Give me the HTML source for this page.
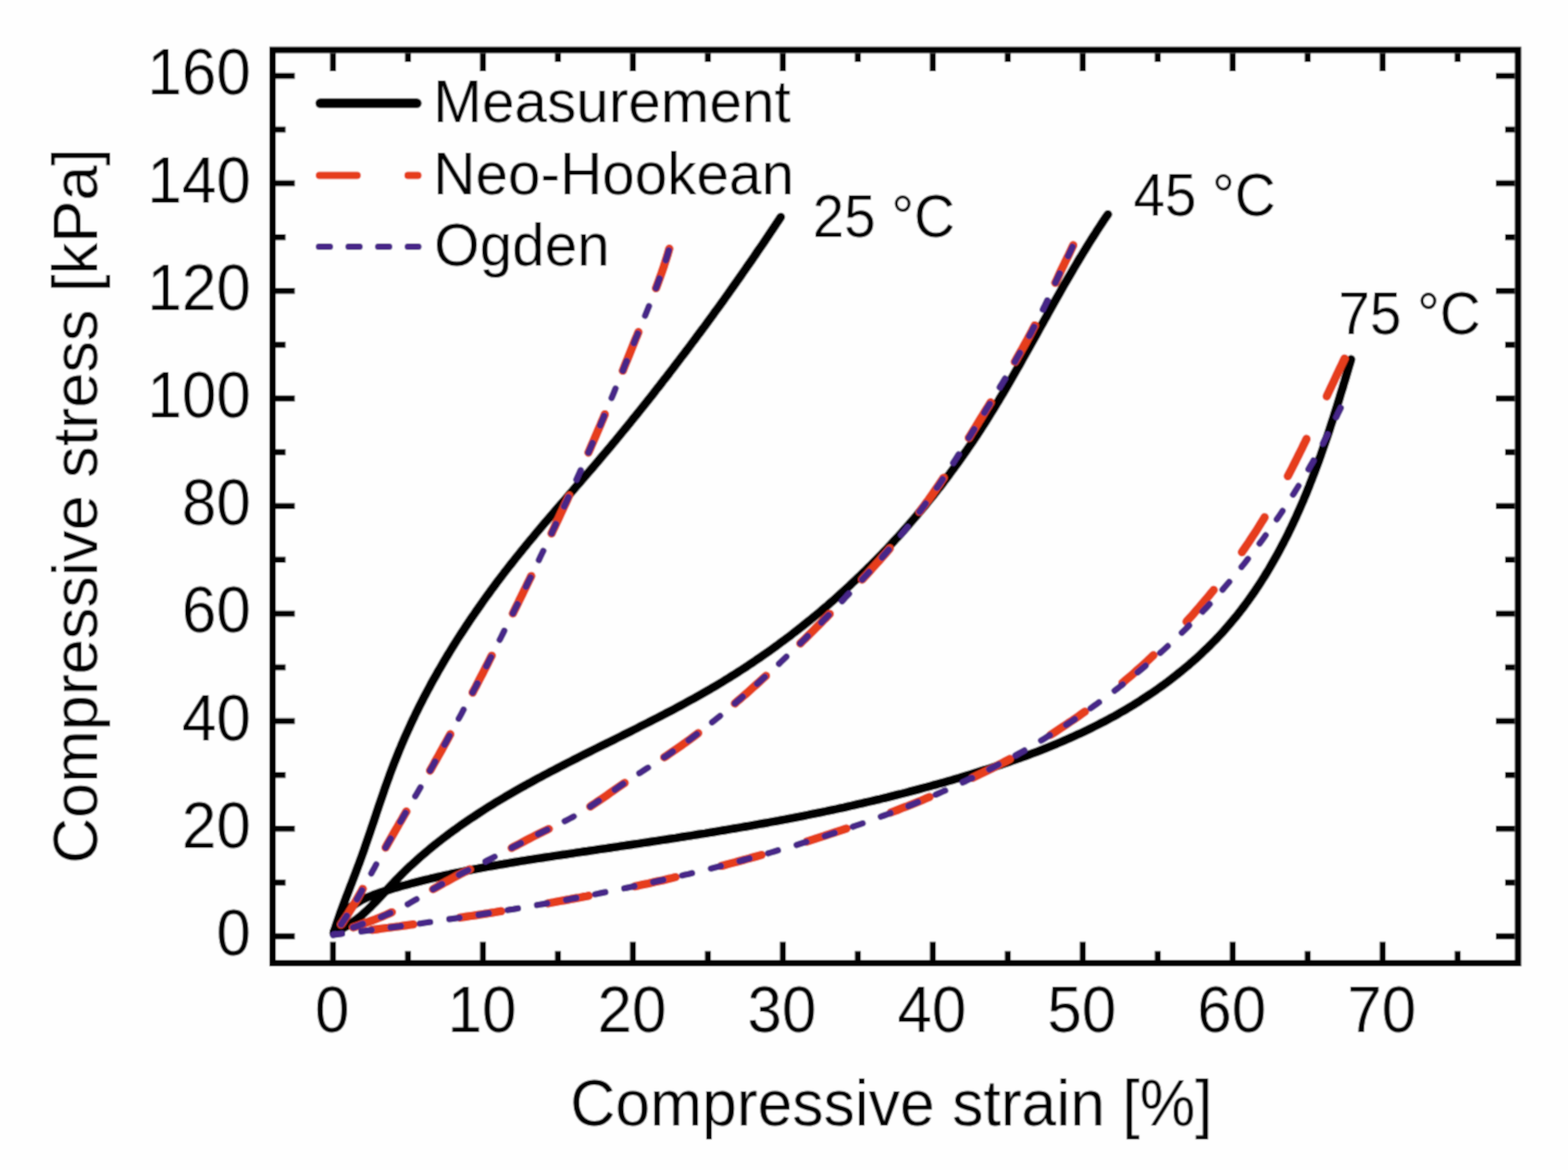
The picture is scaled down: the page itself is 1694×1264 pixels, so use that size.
<!DOCTYPE html><html><head><meta charset="utf-8"><title>Compressive stress-strain</title>
<style>html,body{margin:0;padding:0;background:#fefefe;}svg{display:block;}text{font-family:"Liberation Sans",Arial,sans-serif;fill:#000;}</style></head><body>
<svg width="1694" height="1264" viewBox="0 0 1694 1264">
<defs><filter id="soft" x="0" y="0" width="100%" height="100%" filterUnits="userSpaceOnUse"><feConvolveMatrix order="3" kernelMatrix="1 2 1 2 6 2 1 2 1" edgeMode="duplicate"/></filter></defs>
<g filter="url(#soft)">
<rect width="1694" height="1264" fill="#fefefe"/>
<g>
<path d="M360.5,1008.0 L361.7,1004.2 L362.9,1000.3 L364.2,996.5 L365.5,992.7 L366.8,988.9 L368.1,985.1 L369.5,981.4 L370.9,977.6 L372.3,973.9 L373.7,970.1 L375.2,966.3 L376.6,962.6 L378.0,958.8 L379.5,955.1 L380.9,951.4 L382.4,947.6 L383.8,943.9 L385.2,940.1 L386.6,936.3 L388.1,932.6 L389.4,928.8 L390.8,925.0 L392.2,921.2 L393.5,917.4 L394.8,913.6 L396.1,909.8 L397.4,906.0 L398.7,902.2 L400.0,898.4 L401.3,894.6 L402.6,890.8 L403.9,886.9 L405.2,883.1 L406.4,879.3 L407.7,875.5 L409.0,871.6 L410.3,867.8 L411.6,864.0 L412.9,860.2 L414.2,856.4 L415.5,852.6 L416.8,848.8 L418.2,845.0 L419.6,841.2 L420.9,837.4 L422.3,833.7 L423.7,829.9 L425.2,826.1 L426.6,822.4 L428.1,818.7 L429.6,814.9 L431.1,811.2 L432.7,807.5 L434.2,803.8 L435.8,800.1 L437.4,796.4 L439.0,792.8 L440.7,789.1 L442.4,785.5 L444.0,781.8 L445.7,778.2 L447.5,774.6 L449.2,770.9 L451.0,767.3 L452.8,763.7 L454.6,760.2 L456.4,756.6 L458.2,753.0 L460.1,749.5 L462.0,745.9 L463.9,742.4 L465.8,738.8 L467.7,735.3 L469.7,731.8 L471.7,728.3 L473.6,724.8 L475.7,721.3 L477.7,717.9 L479.7,714.4 L481.8,710.9 L483.8,707.5 L485.9,704.1 L488.0,700.6 L490.1,697.2 L492.3,693.8 L494.4,690.4 L496.6,687.0 L498.8,683.6 L501.0,680.3 L503.2,676.9 L505.4,673.6 L507.7,670.2 L509.9,666.9 L512.2,663.6 L514.5,660.3 L516.8,657.0 L519.1,653.7 L521.4,650.4 L523.7,647.1 L526.1,643.8 L528.5,640.6 L530.8,637.3 L533.2,634.1 L535.6,630.9 L538.0,627.6 L540.5,624.4 L542.9,621.2 L545.3,618.0 L547.8,614.9 L550.3,611.7 L552.8,608.5 L555.3,605.4 L557.8,602.2 L560.3,599.1 L562.8,596.0 L565.3,592.9 L567.9,589.7 L570.4,586.6 L573.0,583.5 L575.6,580.5 L578.1,577.4 L580.7,574.3 L583.3,571.2 L585.9,568.2 L588.5,565.1 L591.1,562.1 L593.7,559.0 L596.3,556.0 L599.0,552.9 L601.6,549.9 L604.2,546.9 L606.8,543.8 L609.5,540.8 L612.1,537.8 L614.7,534.7 L617.4,531.7 L620.0,528.7 L622.6,525.6 L625.2,522.6 L627.9,519.6 L630.5,516.5 L633.1,513.5 L635.7,510.5 L638.4,507.4 L641.0,504.4 L643.6,501.3 L646.2,498.2 L648.8,495.2 L651.4,492.1 L654.0,489.0 L656.5,486.0 L659.1,482.9 L661.7,479.8 L664.3,476.7 L666.8,473.6 L669.4,470.5 L671.9,467.4 L674.5,464.3 L677.0,461.2 L679.6,458.1 L682.1,454.9 L684.6,451.8 L687.1,448.7 L689.7,445.5 L692.2,442.4 L694.7,439.3 L697.2,436.1 L699.7,433.0 L702.2,429.8 L704.7,426.7 L707.2,423.5 L709.6,420.3 L712.1,417.2 L714.6,414.0 L717.0,410.8 L719.5,407.7 L722.0,404.5 L724.4,401.3 L726.9,398.1 L729.3,394.9 L731.8,391.7 L734.2,388.5 L736.6,385.3 L739.1,382.1 L741.5,378.9 L743.9,375.7 L746.3,372.5 L748.7,369.3 L751.1,366.1 L753.5,362.8 L755.9,359.6 L758.3,356.4 L760.7,353.2 L763.1,349.9 L765.4,346.7 L767.8,343.4 L770.2,340.2 L772.5,336.9 L774.9,333.7 L777.3,330.4 L779.6,327.2 L782.0,323.9 L784.3,320.6 L786.6,317.4 L789.0,314.1 L791.3,310.8 L793.6,307.5 L795.9,304.3 L798.2,301.0 L800.5,297.7 L802.8,294.4 L805.1,291.1 L807.4,287.8 L809.7,284.5 L812.0,281.2 L814.3,277.9 L816.6,274.5 L818.8,271.2 L821.1,267.9 L823.4,264.6 L825.6,261.3 L827.9,257.9 L830.1,254.6 L832.4,251.2 L834.6,247.9 L836.8,244.6 L839.1,241.2 L841.3,237.9 L843.5,234.5" fill="none" stroke="#000" stroke-width="9.4" stroke-linejoin="round" stroke-linecap="round"/>
<path d="M361.0,1007.0 L364.8,1005.5 L368.5,1003.8 L372.0,1001.9 L375.4,1000.0 L378.8,997.8 L382.0,995.6 L385.2,993.2 L388.3,990.8 L391.3,988.3 L394.3,985.6 L397.2,982.9 L400.1,980.1 L402.9,977.3 L405.7,974.4 L408.5,971.5 L411.2,968.6 L414.0,965.6 L416.7,962.6 L419.4,959.7 L422.2,956.7 L425.0,953.8 L427.8,950.8 L430.6,947.9 L433.4,945.1 L436.3,942.2 L439.2,939.4 L442.1,936.6 L445.1,933.9 L448.1,931.2 L451.1,928.5 L454.1,925.8 L457.1,923.2 L460.2,920.6 L463.3,918.0 L466.4,915.4 L469.5,912.9 L472.7,910.4 L475.9,907.9 L479.1,905.4 L482.3,903.0 L485.5,900.6 L488.7,898.2 L492.0,895.9 L495.2,893.5 L498.5,891.2 L501.8,888.9 L505.1,886.6 L508.4,884.4 L511.8,882.2 L515.1,880.0 L518.5,877.8 L521.8,875.6 L525.2,873.4 L528.6,871.3 L532.0,869.2 L535.4,867.1 L538.9,865.0 L542.3,863.0 L545.7,860.9 L549.2,858.9 L552.7,856.9 L556.1,854.9 L559.6,852.9 L563.1,850.9 L566.6,849.0 L570.1,847.0 L573.7,845.1 L577.2,843.1 L580.7,841.2 L584.3,839.3 L587.8,837.4 L591.3,835.6 L594.9,833.7 L598.5,831.8 L602.0,830.0 L605.6,828.1 L609.2,826.3 L612.8,824.4 L616.4,822.6 L619.9,820.8 L623.5,819.0 L627.1,817.1 L630.7,815.3 L634.3,813.5 L637.9,811.7 L641.5,809.9 L645.1,808.1 L648.8,806.3 L652.4,804.5 L656.0,802.7 L659.6,801.0 L663.2,799.2 L666.8,797.4 L670.4,795.6 L674.0,793.8 L677.6,792.0 L681.2,790.2 L684.8,788.4 L688.4,786.6 L692.0,784.7 L695.6,782.9 L699.2,781.1 L702.8,779.3 L706.4,777.4 L710.0,775.6 L713.6,773.8 L717.2,771.9 L720.7,770.0 L724.3,768.2 L727.9,766.3 L731.4,764.4 L735.0,762.5 L738.5,760.6 L742.0,758.7 L745.6,756.7 L749.1,754.8 L752.6,752.8 L756.1,750.9 L759.6,748.9 L763.1,746.9 L766.6,744.9 L770.0,742.8 L773.5,740.8 L777.0,738.7 L780.4,736.7 L783.8,734.6 L787.3,732.5 L790.7,730.3 L794.1,728.2 L797.5,726.0 L800.8,723.9 L804.2,721.7 L807.6,719.5 L810.9,717.2 L814.3,715.0 L817.6,712.7 L820.9,710.5 L824.2,708.2 L827.5,705.9 L830.8,703.6 L834.1,701.2 L837.3,698.9 L840.6,696.5 L843.8,694.1 L847.0,691.7 L850.3,689.3 L853.5,686.9 L856.7,684.4 L859.8,682.0 L863.0,679.5 L866.2,677.0 L869.3,674.5 L872.4,672.0 L875.6,669.5 L878.7,666.9 L881.8,664.3 L884.9,661.8 L888.0,659.2 L891.0,656.6 L894.1,654.0 L897.1,651.3 L900.1,648.7 L903.2,646.0 L906.2,643.3 L909.2,640.6 L912.1,637.9 L915.1,635.2 L918.1,632.5 L921.0,629.7 L923.9,627.0 L926.8,624.2 L929.8,621.4 L932.6,618.6 L935.5,615.8 L938.4,613.0 L941.2,610.2 L944.1,607.3 L946.9,604.4 L949.7,601.6 L952.5,598.7 L955.3,595.8 L958.1,592.9 L960.9,589.9 L963.6,587.0 L966.3,584.0 L969.1,581.1 L971.8,578.1 L974.5,575.1 L977.1,572.1 L979.8,569.1 L982.5,566.1 L985.1,563.0 L987.7,560.0 L990.3,556.9 L992.9,553.8 L995.5,550.7 L998.1,547.7 L1000.7,544.5 L1003.2,541.4 L1005.7,538.3 L1008.2,535.2 L1010.7,532.0 L1013.2,528.8 L1015.7,525.7 L1018.2,522.5 L1020.6,519.3 L1023.0,516.1 L1025.4,512.9 L1027.8,509.6 L1030.2,506.4 L1032.6,503.1 L1035.0,499.9 L1037.3,496.6 L1039.6,493.3 L1041.9,490.0 L1044.2,486.7 L1046.5,483.4 L1048.8,480.1 L1051.0,476.8 L1053.3,473.4 L1055.5,470.1 L1057.7,466.7 L1059.9,463.4 L1062.0,460.0 L1064.2,456.6 L1066.4,453.2 L1068.5,449.8 L1070.6,446.4 L1072.7,443.0 L1074.8,439.5 L1076.9,436.1 L1079.0,432.7 L1081.0,429.2 L1083.1,425.8 L1085.1,422.3 L1087.2,418.8 L1089.2,415.4 L1091.2,411.9 L1093.2,408.4 L1095.2,404.9 L1097.2,401.4 L1099.2,397.9 L1101.2,394.5 L1103.2,391.0 L1105.1,387.4 L1107.1,383.9 L1109.1,380.4 L1111.0,376.9 L1113.0,373.4 L1114.9,369.9 L1116.9,366.4 L1118.9,362.9 L1120.8,359.4 L1122.8,355.8 L1124.7,352.3 L1126.7,348.8 L1128.6,345.3 L1130.6,341.8 L1132.5,338.3 L1134.5,334.7 L1136.5,331.2 L1138.4,327.7 L1140.4,324.2 L1142.4,320.7 L1144.4,317.2 L1146.3,313.7 L1148.3,310.2 L1150.3,306.7 L1152.3,303.3 L1154.3,299.8 L1156.4,296.3 L1158.4,292.8 L1160.4,289.4 L1162.5,285.9 L1164.5,282.5 L1166.6,279.0 L1168.7,275.6 L1170.8,272.1 L1172.9,268.7 L1175.0,265.3 L1177.1,261.9 L1179.2,258.5 L1181.4,255.1 L1183.6,251.7 L1185.7,248.3 L1187.9,245.0 L1190.1,241.6 L1192.4,238.2 L1194.6,234.9 L1196.9,231.6" fill="none" stroke="#000" stroke-width="9.4" stroke-linejoin="round" stroke-linecap="round"/>
<path d="M361.0,1006.0 L362.9,1002.4 L364.8,998.8 L366.7,995.3 L368.8,991.8 L371.1,988.5 L373.5,985.4 L376.2,982.6 L379.1,980.1 L382.1,977.7 L385.3,975.6 L388.7,973.6 L392.1,971.7 L395.7,970.0 L399.3,968.5 L403.0,967.0 L406.8,965.6 L410.6,964.3 L414.5,963.1 L418.3,961.9 L422.2,960.7 L426.1,959.6 L430.0,958.4 L433.9,957.3 L437.8,956.3 L441.7,955.2 L445.6,954.1 L449.5,953.1 L453.4,952.1 L457.3,951.1 L461.2,950.2 L465.1,949.2 L469.0,948.3 L473.0,947.4 L476.9,946.5 L480.8,945.6 L484.7,944.8 L488.6,943.9 L492.6,943.1 L496.5,942.3 L500.4,941.5 L504.4,940.7 L508.3,939.9 L512.2,939.1 L516.2,938.4 L520.1,937.6 L524.1,936.9 L528.0,936.2 L531.9,935.5 L535.9,934.8 L539.8,934.1 L543.8,933.5 L547.7,932.8 L551.7,932.1 L555.6,931.5 L559.6,930.8 L563.6,930.2 L567.5,929.6 L571.5,928.9 L575.4,928.3 L579.4,927.7 L583.4,927.1 L587.3,926.5 L591.3,925.9 L595.2,925.3 L599.2,924.7 L603.2,924.1 L607.1,923.5 L611.1,923.0 L615.1,922.4 L619.0,921.8 L623.0,921.2 L627.0,920.6 L630.9,920.0 L634.9,919.5 L638.9,918.9 L642.8,918.3 L646.8,917.7 L650.8,917.1 L654.7,916.6 L658.7,916.0 L662.7,915.4 L666.7,914.8 L670.6,914.2 L674.6,913.6 L678.6,913.0 L682.5,912.5 L686.5,911.9 L690.5,911.3 L694.4,910.7 L698.4,910.1 L702.4,909.5 L706.3,908.9 L710.3,908.3 L714.3,907.7 L718.3,907.1 L722.2,906.5 L726.2,905.9 L730.2,905.3 L734.1,904.6 L738.1,904.0 L742.1,903.4 L746.0,902.8 L750.0,902.2 L754.0,901.5 L757.9,900.9 L761.9,900.3 L765.8,899.6 L769.8,899.0 L773.8,898.3 L777.7,897.7 L781.7,897.0 L785.7,896.3 L789.6,895.7 L793.6,895.0 L797.5,894.3 L801.5,893.7 L805.4,893.0 L809.4,892.3 L813.3,891.6 L817.3,890.9 L821.2,890.2 L825.2,889.5 L829.1,888.8 L833.1,888.0 L837.0,887.3 L841.0,886.6 L844.9,885.8 L848.9,885.1 L852.8,884.3 L856.8,883.6 L860.7,882.8 L864.6,882.1 L868.6,881.3 L872.5,880.5 L876.4,879.7 L880.4,878.9 L884.3,878.1 L888.2,877.3 L892.2,876.5 L896.1,875.6 L900.0,874.8 L903.9,874.0 L907.8,873.1 L911.8,872.3 L915.7,871.4 L919.6,870.5 L923.5,869.6 L927.4,868.7 L931.3,867.9 L935.2,866.9 L939.2,866.0 L943.1,865.1 L947.0,864.2 L950.9,863.3 L954.8,862.3 L958.7,861.4 L962.6,860.4 L966.5,859.4 L970.3,858.4 L974.2,857.5 L978.1,856.5 L982.0,855.4 L985.9,854.4 L989.8,853.4 L993.6,852.4 L997.5,851.3 L1001.4,850.3 L1005.3,849.2 L1009.1,848.1 L1013.0,847.1 L1016.9,846.0 L1020.7,844.9 L1024.6,843.8 L1028.5,842.7 L1032.3,841.5 L1036.2,840.4 L1040.0,839.2 L1043.9,838.1 L1047.7,836.9 L1051.5,835.7 L1055.4,834.5 L1059.2,833.3 L1063.0,832.1 L1066.9,830.9 L1070.7,829.7 L1074.5,828.4 L1078.3,827.1 L1082.1,825.9 L1085.9,824.6 L1089.7,823.3 L1093.5,821.9 L1097.3,820.6 L1101.1,819.2 L1104.9,817.9 L1108.7,816.5 L1112.4,815.1 L1116.2,813.7 L1119.9,812.3 L1123.7,810.8 L1127.4,809.3 L1131.1,807.8 L1134.8,806.3 L1138.5,804.8 L1142.2,803.3 L1145.9,801.7 L1149.6,800.1 L1153.3,798.5 L1157.0,796.9 L1160.6,795.3 L1164.2,793.6 L1167.9,791.9 L1171.5,790.2 L1175.1,788.5 L1178.7,786.7 L1182.3,784.9 L1185.9,783.1 L1189.4,781.3 L1193.0,779.5 L1196.5,777.6 L1200.0,775.7 L1203.6,773.8 L1207.1,771.8 L1210.5,769.8 L1214.0,767.8 L1217.5,765.8 L1220.9,763.7 L1224.3,761.7 L1227.8,759.5 L1231.2,757.4 L1234.5,755.2 L1237.9,753.0 L1241.3,750.8 L1244.6,748.6 L1247.9,746.3 L1251.2,744.0 L1254.5,741.6 L1257.8,739.3 L1261.0,736.9 L1264.2,734.5 L1267.4,732.0 L1270.6,729.5 L1273.7,727.0 L1276.9,724.5 L1280.0,721.9 L1283.1,719.4 L1286.1,716.7 L1289.2,714.1 L1292.2,711.4 L1295.2,708.7 L1298.1,706.0 L1301.0,703.2 L1303.9,700.5 L1306.8,697.6 L1309.6,694.8 L1312.4,691.9 L1315.2,689.1 L1318.0,686.1 L1320.7,683.2 L1323.4,680.2 L1326.0,677.2 L1328.6,674.2 L1331.2,671.1 L1333.7,668.0 L1336.3,664.9 L1338.7,661.8 L1341.2,658.6 L1343.6,655.5 L1346.0,652.3 L1348.4,649.0 L1350.7,645.8 L1353.0,642.5 L1355.3,639.2 L1357.5,635.9 L1359.7,632.6 L1361.9,629.2 L1364.1,625.8 L1366.2,622.5 L1368.3,619.0 L1370.4,615.6 L1372.4,612.2 L1374.4,608.7 L1376.4,605.2 L1378.4,601.7 L1380.3,598.2 L1382.2,594.7 L1384.1,591.1 L1386.0,587.6 L1387.8,584.0 L1389.7,580.4 L1391.5,576.8 L1393.2,573.2 L1395.0,569.6 L1396.7,566.0 L1398.4,562.3 L1400.1,558.7 L1401.7,555.0 L1403.4,551.3 L1405.0,547.7 L1406.6,544.0 L1408.2,540.3 L1409.7,536.6 L1411.3,532.9 L1412.8,529.1 L1414.3,525.4 L1415.7,521.7 L1417.2,517.9 L1418.6,514.2 L1420.1,510.5 L1421.5,506.7 L1422.9,502.9 L1424.3,499.2 L1425.6,495.4 L1427.0,491.6 L1428.3,487.8 L1429.6,484.0 L1430.9,480.3 L1432.2,476.5 L1433.5,472.7 L1434.8,468.9 L1436.1,465.0 L1437.3,461.2 L1438.5,457.4 L1439.8,453.6 L1441.0,449.8 L1442.2,445.9 L1443.4,442.1 L1444.6,438.3 L1445.8,434.5 L1447.0,430.6 L1448.1,426.8 L1449.3,422.9 L1450.5,419.1 L1451.6,415.2 L1452.8,411.4 L1453.9,407.6 L1455.1,403.7 L1456.2,399.9 L1457.3,396.0 L1458.5,392.2 L1459.6,388.3" fill="none" stroke="#000" stroke-width="9.4" stroke-linejoin="round" stroke-linecap="round"/>
<path d="M724.3,264.3 L723.2,268.2 L722.1,272.0 L721.0,275.9 L719.8,279.7 L718.5,283.6 L717.3,287.4 L716.0,291.2 L714.7,295.0 L713.3,298.8 L712.0,302.5 L710.6,306.3 L709.2,310.1 L707.8,313.8 L706.3,317.6 L704.9,321.3 L703.4,325.1 L701.9,328.8 L700.4,332.5 L698.9,336.2 L697.4,340.0 L695.9,343.7 L694.3,347.4 L692.8,351.1 L691.3,354.9 L689.8,358.6 L688.3,362.3 L686.7,366.0 L685.2,369.8 L683.7,373.5 L682.2,377.2 L680.7,380.9 L679.2,384.7 L677.7,388.4 L676.2,392.1 L674.7,395.8 L673.2,399.6 L671.7,403.3 L670.2,407.0 L668.6,410.8 L667.1,414.5 L665.6,418.2 L664.1,421.9 L662.6,425.6 L661.0,429.4 L659.5,433.1 L658.0,436.8 L656.4,440.5 L654.9,444.2 L653.3,447.9 L651.8,451.6 L650.2,455.3 L648.7,459.0 L647.1,462.7 L645.5,466.4 L643.9,470.1 L642.3,473.8 L640.7,477.5 L639.1,481.2 L637.5,484.9 L635.9,488.5 L634.3,492.2 L632.7,495.9 L631.0,499.6 L629.4,503.2 L627.8,506.9 L626.1,510.6 L624.5,514.2 L622.8,517.9 L621.2,521.6 L619.5,525.2 L617.9,528.9 L616.2,532.5 L614.5,536.2 L612.9,539.8 L611.2,543.5 L609.5,547.1 L607.8,550.8 L606.1,554.4 L604.4,558.1 L602.7,561.7 L601.0,565.3 L599.3,569.0 L597.6,572.6 L595.9,576.3 L594.2,579.9 L592.5,583.5 L590.7,587.1 L589.0,590.8 L587.3,594.4 L585.5,598.0 L583.8,601.6 L582.1,605.3 L580.3,608.9 L578.6,612.5 L576.8,616.1 L575.1,619.7 L573.4,623.4 L571.6,627.0 L569.8,630.6 L568.1,634.2 L566.3,637.8 L564.6,641.4 L562.8,645.0 L561.0,648.6 L559.3,652.3 L557.5,655.9 L555.7,659.5 L553.9,663.1 L552.2,666.7 L550.4,670.3 L548.6,673.9 L546.8,677.5 L545.0,681.0 L543.2,684.6 L541.4,688.2 L539.6,691.8 L537.8,695.4 L536.0,699.0 L534.2,702.6 L532.3,706.2 L530.5,709.7 L528.7,713.3 L526.9,716.9 L525.0,720.5 L523.2,724.0 L521.4,727.6 L519.5,731.2 L517.7,734.7 L515.8,738.3 L514.0,741.9 L512.1,745.4 L510.2,749.0 L508.4,752.5 L506.5,756.1 L504.6,759.6 L502.7,763.2 L500.8,766.7 L498.9,770.3 L497.0,773.8 L495.1,777.3 L493.2,780.9 L491.3,784.4 L489.4,787.9 L487.5,791.5 L485.5,795.0 L483.6,798.5 L481.7,802.0 L479.7,805.5 L477.8,809.1 L475.8,812.6 L473.9,816.1 L471.9,819.6 L469.9,823.1 L468.0,826.6 L466.0,830.1 L464.0,833.6 L462.0,837.1 L460.0,840.5 L458.0,844.0 L456.0,847.5 L454.0,851.0 L452.0,854.5 L450.0,857.9 L447.9,861.4 L445.9,864.9 L443.9,868.3 L441.9,871.8 L439.8,875.3 L437.8,878.8 L435.8,882.2 L433.8,885.7 L431.7,889.2 L429.7,892.7 L427.7,896.1 L425.7,899.6 L423.7,903.1 L421.7,906.6 L419.7,910.1 L417.7,913.6 L415.8,917.1 L413.8,920.6 L411.8,924.2 L409.9,927.7 L407.9,931.2 L406.0,934.7 L404.1,938.3 L402.1,941.8 L400.2,945.3 L398.3,948.9 L396.3,952.4 L394.4,955.9 L392.4,959.4 L390.5,962.9 L388.5,966.4 L386.5,969.9 L384.5,973.4 L382.4,976.9 L380.4,980.3 L378.3,983.7 L376.2,987.1 L374.0,990.5 L371.8,993.8 L369.6,997.2 L367.3,1000.4 L364.9,1003.7 L362.5,1006.9 L360.0,1010.0" fill="none" stroke="#e63e1a" stroke-width="9.2" stroke-linejoin="round" stroke-dasharray="45 51" stroke-dashoffset="-4.6" stroke-linecap="round"/>
<path d="M1161.3,260.7 L1159.7,264.4 L1158.0,268.0 L1156.3,271.7 L1154.6,275.3 L1152.8,278.9 L1151.0,282.5 L1149.3,286.1 L1147.5,289.7 L1145.8,293.3 L1144.1,297.0 L1142.4,300.6 L1140.7,304.3 L1139.0,307.9 L1137.3,311.6 L1135.7,315.2 L1134.0,318.9 L1132.3,322.6 L1130.6,326.2 L1128.9,329.8 L1127.1,333.4 L1125.4,337.0 L1123.6,340.6 L1121.8,344.2 L1119.9,347.8 L1118.1,351.4 L1116.2,354.9 L1114.4,358.5 L1112.5,362.0 L1110.6,365.5 L1108.7,369.1 L1106.7,372.6 L1104.8,376.1 L1102.8,379.6 L1100.8,383.1 L1098.8,386.6 L1096.9,390.0 L1094.8,393.5 L1092.8,397.0 L1090.8,400.4 L1088.8,403.9 L1086.7,407.4 L1084.7,410.8 L1082.6,414.3 L1080.5,417.7 L1078.5,421.1 L1076.4,424.6 L1074.3,428.0 L1072.2,431.4 L1070.1,434.9 L1068.0,438.3 L1065.9,441.7 L1063.8,445.2 L1061.7,448.6 L1059.6,452.0 L1057.5,455.4 L1055.4,458.9 L1053.3,462.3 L1051.2,465.7 L1049.1,469.1 L1046.9,472.6 L1044.8,476.0 L1042.7,479.4 L1040.6,482.8 L1038.5,486.3 L1036.4,489.7 L1034.2,493.1 L1032.1,496.5 L1029.9,499.9 L1027.8,503.3 L1025.6,506.6 L1023.4,510.0 L1021.2,513.4 L1019.0,516.7 L1016.8,520.1 L1014.6,523.4 L1012.3,526.7 L1010.0,530.0 L1007.7,533.3 L1005.4,536.6 L1003.1,539.9 L1000.7,543.1 L998.3,546.4 L995.9,549.6 L993.5,552.8 L991.1,556.0 L988.6,559.2 L986.2,562.3 L983.7,565.5 L981.2,568.6 L978.7,571.8 L976.1,574.9 L973.6,578.0 L971.0,581.1 L968.5,584.2 L965.9,587.2 L963.3,590.3 L960.6,593.4 L958.0,596.4 L955.4,599.4 L952.7,602.5 L950.1,605.5 L947.4,608.5 L944.7,611.5 L942.0,614.5 L939.4,617.5 L936.7,620.5 L934.0,623.4 L931.2,626.4 L928.5,629.4 L925.8,632.3 L923.1,635.3 L920.3,638.2 L917.6,641.1 L914.8,644.0 L912.1,647.0 L909.3,649.9 L906.5,652.8 L903.7,655.7 L901.0,658.6 L898.2,661.5 L895.4,664.3 L892.6,667.2 L889.7,670.1 L886.9,672.9 L884.1,675.8 L881.3,678.6 L878.4,681.5 L875.6,684.3 L872.7,687.1 L869.9,690.0 L867.0,692.8 L864.1,695.6 L861.2,698.4 L858.4,701.2 L855.5,704.0 L852.6,706.7 L849.6,709.5 L846.7,712.3 L843.8,715.0 L840.9,717.8 L837.9,720.5 L835.0,723.3 L832.0,726.0 L829.1,728.7 L826.1,731.4 L823.1,734.1 L820.2,736.8 L817.2,739.5 L814.2,742.2 L811.2,744.9 L808.2,747.6 L805.2,750.2 L802.1,752.9 L799.1,755.5 L796.0,758.1 L793.0,760.8 L789.9,763.4 L786.8,766.0 L783.8,768.5 L780.7,771.1 L777.6,773.7 L774.4,776.2 L771.3,778.7 L768.2,781.2 L765.0,783.7 L761.9,786.2 L758.7,788.7 L755.5,791.1 L752.3,793.6 L749.1,796.0 L745.9,798.4 L742.6,800.7 L739.4,803.1 L736.1,805.4 L732.8,807.7 L729.5,810.0 L726.2,812.3 L722.9,814.6 L719.6,816.8 L716.2,819.0 L712.9,821.2 L709.5,823.4 L706.1,825.5 L702.7,827.7 L699.3,829.8 L695.9,832.0 L692.6,834.2 L689.2,836.3 L685.8,838.5 L682.4,840.7 L679.1,842.9 L675.8,845.2 L672.4,847.4 L669.1,849.7 L665.8,852.0 L662.6,854.3 L659.3,856.6 L656.0,858.9 L652.7,861.2 L649.4,863.5 L646.1,865.7 L642.7,868.0 L639.4,870.2 L636.0,872.4 L632.7,874.5 L629.3,876.6 L625.8,878.6 L622.4,880.6 L618.9,882.6 L615.3,884.5 L611.8,886.3 L608.2,888.2 L604.6,889.9 L601.0,891.7 L597.4,893.4 L593.7,895.1 L590.1,896.9 L586.5,898.6 L582.9,900.4 L579.3,902.2 L575.7,904.0 L572.1,905.9 L568.6,907.7 L565.0,909.6 L561.5,911.5 L557.9,913.4 L554.3,915.2 L550.8,917.1 L547.2,919.0 L543.6,920.8 L540.1,922.6 L536.5,924.5 L532.9,926.3 L529.3,928.1 L525.7,929.9 L522.1,931.7 L518.5,933.5 L514.9,935.3 L511.4,937.2 L507.8,939.0 L504.2,940.8 L500.6,942.6 L497.1,944.5 L493.5,946.4 L490.0,948.3 L486.5,950.2 L483.0,952.1 L479.4,954.0 L476.0,956.0 L472.5,958.0 L469.0,960.0 L465.6,962.0 L462.2,964.1 L458.7,966.2 L455.3,968.2 L451.9,970.3 L448.5,972.3 L445.0,974.3 L441.6,976.3 L438.1,978.2 L434.5,980.1 L431.0,981.9 L427.4,983.6 L423.8,985.3 L420.1,987.0 L416.5,988.6 L412.8,990.2 L409.0,991.7 L405.3,993.2 L401.5,994.6 L397.8,996.0 L394.0,997.4 L390.2,998.8 L386.4,1000.2 L382.6,1001.6 L378.8,1002.9 L375.0,1004.3 L371.3,1005.7 L367.5,1007.1 L363.7,1008.5 L360.0,1010.0" fill="none" stroke="#e63e1a" stroke-width="9.2" stroke-linejoin="round" stroke-dasharray="45 51" stroke-dashoffset="-4.6" stroke-linecap="round"/>
<path d="M1454.6,383.3 L1452.8,386.9 L1451.1,390.5 L1449.4,394.1 L1447.6,397.8 L1445.9,401.4 L1444.2,405.0 L1442.5,408.6 L1440.8,412.3 L1439.1,415.9 L1437.4,419.5 L1435.7,423.2 L1434.0,426.8 L1432.3,430.4 L1430.6,434.1 L1428.8,437.7 L1427.1,441.3 L1425.4,445.0 L1423.7,448.6 L1422.0,452.2 L1420.3,455.8 L1418.6,459.5 L1416.8,463.1 L1415.1,466.7 L1413.4,470.3 L1411.6,473.9 L1409.9,477.5 L1408.1,481.1 L1406.4,484.7 L1404.6,488.3 L1402.8,491.9 L1401.0,495.5 L1399.2,499.1 L1397.4,502.6 L1395.6,506.2 L1393.7,509.8 L1391.9,513.3 L1390.0,516.9 L1388.1,520.4 L1386.2,523.9 L1384.3,527.4 L1382.4,530.9 L1380.4,534.5 L1378.5,537.9 L1376.5,541.4 L1374.5,544.9 L1372.5,548.4 L1370.5,551.8 L1368.4,555.3 L1366.3,558.7 L1364.3,562.1 L1362.1,565.5 L1360.0,568.9 L1357.9,572.3 L1355.7,575.7 L1353.5,579.1 L1351.3,582.4 L1349.1,585.8 L1346.8,589.1 L1344.6,592.4 L1342.3,595.7 L1340.0,599.0 L1337.7,602.3 L1335.3,605.6 L1333.0,608.8 L1330.6,612.1 L1328.2,615.3 L1325.8,618.5 L1323.4,621.7 L1320.9,624.9 L1318.5,628.1 L1316.0,631.3 L1313.5,634.4 L1311.0,637.6 L1308.4,640.7 L1305.9,643.8 L1303.3,646.9 L1300.7,650.0 L1298.1,653.0 L1295.5,656.1 L1292.9,659.1 L1290.2,662.2 L1287.6,665.2 L1284.9,668.2 L1282.2,671.1 L1279.5,674.1 L1276.7,677.0 L1274.0,680.0 L1271.2,682.9 L1268.4,685.8 L1265.6,688.7 L1262.8,691.5 L1260.0,694.4 L1257.1,697.2 L1254.3,700.0 L1251.4,702.8 L1248.5,705.6 L1245.6,708.4 L1242.7,711.1 L1239.8,713.9 L1236.8,716.6 L1233.9,719.3 L1230.9,722.0 L1227.9,724.6 L1224.9,727.3 L1221.9,729.9 L1218.8,732.5 L1215.8,735.1 L1212.7,737.7 L1209.6,740.2 L1206.6,742.7 L1203.4,745.2 L1200.3,747.7 L1197.2,750.2 L1194.0,752.7 L1190.8,755.1 L1187.6,757.5 L1184.4,759.9 L1181.2,762.3 L1178.0,764.6 L1174.7,767.0 L1171.4,769.3 L1168.2,771.6 L1164.9,773.9 L1161.6,776.2 L1158.3,778.5 L1154.9,780.7 L1151.6,783.0 L1148.3,785.2 L1144.9,787.4 L1141.6,789.6 L1138.2,791.8 L1134.8,794.0 L1131.4,796.2 L1128.0,798.3 L1124.6,800.4 L1121.2,802.5 L1117.7,804.6 L1114.3,806.6 L1110.8,808.7 L1107.4,810.7 L1103.9,812.7 L1100.4,814.7 L1096.9,816.6 L1093.4,818.6 L1089.9,820.5 L1086.4,822.4 L1082.8,824.3 L1079.3,826.1 L1075.7,828.0 L1072.2,829.8 L1068.6,831.6 L1065.0,833.4 L1061.4,835.2 L1057.8,836.9 L1054.2,838.7 L1050.6,840.4 L1047.0,842.1 L1043.4,843.8 L1039.7,845.5 L1036.1,847.2 L1032.5,848.8 L1028.8,850.5 L1025.1,852.1 L1021.5,853.7 L1017.8,855.3 L1014.1,856.9 L1010.4,858.5 L1006.7,860.0 L1003.0,861.6 L999.3,863.1 L995.6,864.7 L991.9,866.2 L988.2,867.7 L984.5,869.2 L980.8,870.7 L977.0,872.1 L973.3,873.6 L969.5,875.1 L965.8,876.5 L962.1,877.9 L958.3,879.3 L954.5,880.7 L950.8,882.1 L947.0,883.5 L943.2,884.9 L939.5,886.3 L935.7,887.6 L931.9,889.0 L928.1,890.3 L924.3,891.7 L920.5,893.0 L916.7,894.3 L912.9,895.6 L909.1,896.9 L905.3,898.1 L901.5,899.4 L897.7,900.7 L893.9,901.9 L890.1,903.2 L886.3,904.4 L882.4,905.6 L878.6,906.9 L874.8,908.1 L871.0,909.3 L867.1,910.5 L863.3,911.6 L859.5,912.8 L855.6,914.0 L851.8,915.1 L847.9,916.3 L844.1,917.4 L840.2,918.6 L836.4,919.7 L832.5,920.8 L828.7,921.9 L824.8,923.0 L821.0,924.1 L817.1,925.2 L813.2,926.3 L809.4,927.4 L805.5,928.4 L801.7,929.5 L797.8,930.5 L793.9,931.6 L790.0,932.6 L786.2,933.6 L782.3,934.7 L778.4,935.7 L774.5,936.7 L770.6,937.7 L766.8,938.7 L762.9,939.6 L759.0,940.6 L755.1,941.6 L751.2,942.5 L747.3,943.5 L743.4,944.4 L739.5,945.4 L735.6,946.3 L731.7,947.2 L727.8,948.1 L723.9,949.1 L720.0,950.0 L716.1,950.9 L712.2,951.7 L708.3,952.6 L704.4,953.5 L700.5,954.4 L696.5,955.2 L692.6,956.1 L688.7,956.9 L684.8,957.8 L680.9,958.6 L676.9,959.4 L673.0,960.3 L669.1,961.1 L665.2,961.9 L661.2,962.7 L657.3,963.5 L653.4,964.3 L649.4,965.1 L645.5,965.8 L641.6,966.6 L637.6,967.4 L633.7,968.2 L629.7,968.9 L625.8,969.7 L621.9,970.4 L617.9,971.1 L614.0,971.9 L610.0,972.6 L606.1,973.3 L602.1,974.0 L598.2,974.8 L594.2,975.5 L590.3,976.2 L586.3,976.9 L582.4,977.6 L578.4,978.2 L574.5,978.9 L570.5,979.6 L566.5,980.3 L562.6,980.9 L558.6,981.6 L554.7,982.3 L550.7,982.9 L546.7,983.6 L542.8,984.2 L538.8,984.8 L534.9,985.5 L530.9,986.1 L526.9,986.7 L523.0,987.4 L519.0,988.0 L515.0,988.6 L511.1,989.2 L507.1,989.8 L503.1,990.4 L499.1,991.0 L495.2,991.6 L491.2,992.2 L487.2,992.8 L483.3,993.4 L479.3,994.0 L475.3,994.5 L471.3,995.1 L467.4,995.7 L463.4,996.2 L459.4,996.8 L455.4,997.4 L451.5,997.9 L447.5,998.5 L443.5,999.0 L439.5,999.6 L435.6,1000.1 L431.6,1000.7 L427.6,1001.2 L423.6,1001.7 L419.7,1002.3 L415.7,1002.8 L411.7,1003.3 L407.7,1003.9 L403.8,1004.4 L399.8,1004.9 L395.8,1005.4 L391.8,1006.0 L387.8,1006.5 L383.9,1007.0 L379.9,1007.5 L375.9,1008.0 L371.9,1008.5 L368.0,1009.0 L364.0,1009.5 L360.0,1010.0" fill="none" stroke="#e63e1a" stroke-width="9.2" stroke-linejoin="round" stroke-dasharray="45 51" stroke-dashoffset="-4.6" stroke-linecap="round"/>
<path d="M724.3,264.3 L723.2,268.2 L722.1,272.0 L721.0,275.9 L719.8,279.7 L718.5,283.6 L717.3,287.4 L716.0,291.2 L714.7,295.0 L713.3,298.8 L712.0,302.5 L710.6,306.3 L709.2,310.1 L707.8,313.8 L706.3,317.6 L704.9,321.3 L703.4,325.1 L701.9,328.8 L700.4,332.5 L698.9,336.2 L697.4,340.0 L695.9,343.7 L694.3,347.4 L692.8,351.1 L691.3,354.9 L689.8,358.6 L688.3,362.3 L686.7,366.0 L685.2,369.8 L683.7,373.5 L682.2,377.2 L680.7,380.9 L679.2,384.7 L677.7,388.4 L676.2,392.1 L674.7,395.8 L673.2,399.6 L671.7,403.3 L670.2,407.0 L668.6,410.8 L667.1,414.5 L665.6,418.2 L664.1,421.9 L662.6,425.6 L661.0,429.4 L659.5,433.1 L658.0,436.8 L656.4,440.5 L654.9,444.2 L653.3,447.9 L651.8,451.6 L650.2,455.3 L648.7,459.0 L647.1,462.7 L645.5,466.4 L643.9,470.1 L642.3,473.8 L640.7,477.5 L639.1,481.2 L637.5,484.9 L635.9,488.5 L634.3,492.2 L632.7,495.9 L631.0,499.6 L629.4,503.2 L627.8,506.9 L626.1,510.6 L624.5,514.2 L622.8,517.9 L621.2,521.6 L619.5,525.2 L617.9,528.9 L616.2,532.5 L614.5,536.2 L612.9,539.8 L611.2,543.5 L609.5,547.1 L607.8,550.8 L606.1,554.4 L604.4,558.1 L602.7,561.7 L601.0,565.3 L599.3,569.0 L597.6,572.6 L595.9,576.3 L594.2,579.9 L592.5,583.5 L590.7,587.1 L589.0,590.8 L587.3,594.4 L585.5,598.0 L583.8,601.6 L582.1,605.3 L580.3,608.9 L578.6,612.5 L576.8,616.1 L575.1,619.7 L573.4,623.4 L571.6,627.0 L569.8,630.6 L568.1,634.2 L566.3,637.8 L564.6,641.4 L562.8,645.0 L561.0,648.6 L559.3,652.3 L557.5,655.9 L555.7,659.5 L553.9,663.1 L552.2,666.7 L550.4,670.3 L548.6,673.9 L546.8,677.5 L545.0,681.0 L543.2,684.6 L541.4,688.2 L539.6,691.8 L537.8,695.4 L536.0,699.0 L534.2,702.6 L532.3,706.2 L530.5,709.7 L528.7,713.3 L526.9,716.9 L525.0,720.5 L523.2,724.0 L521.4,727.6 L519.5,731.2 L517.7,734.7 L515.8,738.3 L514.0,741.9 L512.1,745.4 L510.2,749.0 L508.4,752.5 L506.5,756.1 L504.6,759.6 L502.7,763.2 L500.8,766.7 L498.9,770.3 L497.0,773.8 L495.1,777.3 L493.2,780.9 L491.3,784.4 L489.4,787.9 L487.5,791.5 L485.5,795.0 L483.6,798.5 L481.7,802.0 L479.7,805.5 L477.8,809.1 L475.8,812.6 L473.9,816.1 L471.9,819.6 L469.9,823.1 L468.0,826.6 L466.0,830.1 L464.0,833.6 L462.0,837.1 L460.0,840.5 L458.0,844.0 L456.0,847.5 L454.0,851.0 L452.0,854.5 L450.0,857.9 L447.9,861.4 L445.9,864.9 L443.9,868.3 L441.9,871.8 L439.8,875.3 L437.8,878.8 L435.8,882.2 L433.8,885.7 L431.7,889.2 L429.7,892.7 L427.7,896.1 L425.7,899.6 L423.7,903.1 L421.7,906.6 L419.7,910.1 L417.7,913.6 L415.8,917.1 L413.8,920.6 L411.8,924.2 L409.9,927.7 L407.9,931.2 L406.0,934.7 L404.1,938.3 L402.1,941.8 L400.2,945.3 L398.3,948.9 L396.3,952.4 L394.4,955.9 L392.4,959.4 L390.5,962.9 L388.5,966.4 L386.5,969.9 L384.5,973.4 L382.4,976.9 L380.4,980.3 L378.3,983.7 L376.2,987.1 L374.0,990.5 L371.8,993.8 L369.6,997.2 L367.3,1000.4 L364.9,1003.7 L362.5,1006.9 L360.0,1010.0" fill="none" stroke="#462888" stroke-width="7.0" stroke-linejoin="round" stroke-dasharray="11 21" stroke-dashoffset="25.5" stroke-linecap="round"/>
<path d="M1161.3,260.7 L1159.7,264.4 L1158.0,268.0 L1156.3,271.7 L1154.6,275.3 L1152.8,278.9 L1151.0,282.5 L1149.3,286.1 L1147.5,289.7 L1145.8,293.3 L1144.1,297.0 L1142.4,300.6 L1140.7,304.3 L1139.0,307.9 L1137.3,311.6 L1135.7,315.2 L1134.0,318.9 L1132.3,322.6 L1130.6,326.2 L1128.9,329.8 L1127.1,333.4 L1125.4,337.0 L1123.6,340.6 L1121.8,344.2 L1119.9,347.8 L1118.1,351.4 L1116.2,354.9 L1114.4,358.5 L1112.5,362.0 L1110.6,365.5 L1108.7,369.1 L1106.7,372.6 L1104.8,376.1 L1102.8,379.6 L1100.8,383.1 L1098.8,386.6 L1096.9,390.0 L1094.8,393.5 L1092.8,397.0 L1090.8,400.4 L1088.8,403.9 L1086.7,407.4 L1084.7,410.8 L1082.6,414.3 L1080.5,417.7 L1078.5,421.1 L1076.4,424.6 L1074.3,428.0 L1072.2,431.4 L1070.1,434.9 L1068.0,438.3 L1065.9,441.7 L1063.8,445.2 L1061.7,448.6 L1059.6,452.0 L1057.5,455.4 L1055.4,458.9 L1053.3,462.3 L1051.2,465.7 L1049.1,469.1 L1046.9,472.6 L1044.8,476.0 L1042.7,479.4 L1040.6,482.8 L1038.5,486.3 L1036.4,489.7 L1034.2,493.1 L1032.1,496.5 L1029.9,499.9 L1027.8,503.3 L1025.6,506.6 L1023.4,510.0 L1021.2,513.4 L1019.0,516.7 L1016.8,520.1 L1014.6,523.4 L1012.3,526.7 L1010.0,530.0 L1007.7,533.3 L1005.4,536.6 L1003.1,539.9 L1000.7,543.1 L998.3,546.4 L995.9,549.6 L993.5,552.8 L991.1,556.0 L988.6,559.2 L986.2,562.3 L983.7,565.5 L981.2,568.6 L978.7,571.8 L976.1,574.9 L973.6,578.0 L971.0,581.1 L968.5,584.2 L965.9,587.2 L963.3,590.3 L960.6,593.4 L958.0,596.4 L955.4,599.4 L952.7,602.5 L950.1,605.5 L947.4,608.5 L944.7,611.5 L942.0,614.5 L939.4,617.5 L936.7,620.5 L934.0,623.4 L931.2,626.4 L928.5,629.4 L925.8,632.3 L923.1,635.3 L920.3,638.2 L917.6,641.1 L914.8,644.0 L912.1,647.0 L909.3,649.9 L906.5,652.8 L903.7,655.7 L901.0,658.6 L898.2,661.5 L895.4,664.3 L892.6,667.2 L889.7,670.1 L886.9,672.9 L884.1,675.8 L881.3,678.6 L878.4,681.5 L875.6,684.3 L872.7,687.1 L869.9,690.0 L867.0,692.8 L864.1,695.6 L861.2,698.4 L858.4,701.2 L855.5,704.0 L852.6,706.7 L849.6,709.5 L846.7,712.3 L843.8,715.0 L840.9,717.8 L837.9,720.5 L835.0,723.3 L832.0,726.0 L829.1,728.7 L826.1,731.4 L823.1,734.1 L820.2,736.8 L817.2,739.5 L814.2,742.2 L811.2,744.9 L808.2,747.6 L805.2,750.2 L802.1,752.9 L799.1,755.5 L796.0,758.1 L793.0,760.8 L789.9,763.4 L786.8,766.0 L783.8,768.5 L780.7,771.1 L777.6,773.7 L774.4,776.2 L771.3,778.7 L768.2,781.2 L765.0,783.7 L761.9,786.2 L758.7,788.7 L755.5,791.1 L752.3,793.6 L749.1,796.0 L745.9,798.4 L742.6,800.7 L739.4,803.1 L736.1,805.4 L732.8,807.7 L729.5,810.0 L726.2,812.3 L722.9,814.6 L719.6,816.8 L716.2,819.0 L712.9,821.2 L709.5,823.4 L706.1,825.5 L702.7,827.7 L699.3,829.8 L695.9,832.0 L692.6,834.2 L689.2,836.3 L685.8,838.5 L682.4,840.7 L679.1,842.9 L675.8,845.2 L672.4,847.4 L669.1,849.7 L665.8,852.0 L662.6,854.3 L659.3,856.6 L656.0,858.9 L652.7,861.2 L649.4,863.5 L646.1,865.7 L642.7,868.0 L639.4,870.2 L636.0,872.4 L632.7,874.5 L629.3,876.6 L625.8,878.6 L622.4,880.6 L618.9,882.6 L615.3,884.5 L611.8,886.3 L608.2,888.2 L604.6,889.9 L601.0,891.7 L597.4,893.4 L593.7,895.1 L590.1,896.9 L586.5,898.6 L582.9,900.4 L579.3,902.2 L575.7,904.0 L572.1,905.9 L568.6,907.7 L565.0,909.6 L561.5,911.5 L557.9,913.4 L554.3,915.2 L550.8,917.1 L547.2,919.0 L543.6,920.8 L540.1,922.6 L536.5,924.5 L532.9,926.3 L529.3,928.1 L525.7,929.9 L522.1,931.7 L518.5,933.5 L514.9,935.3 L511.4,937.2 L507.8,939.0 L504.2,940.8 L500.6,942.6 L497.1,944.5 L493.5,946.4 L490.0,948.3 L486.5,950.2 L483.0,952.1 L479.4,954.0 L476.0,956.0 L472.5,958.0 L469.0,960.0 L465.6,962.0 L462.2,964.1 L458.7,966.2 L455.3,968.2 L451.9,970.3 L448.5,972.3 L445.0,974.3 L441.6,976.3 L438.1,978.2 L434.5,980.1 L431.0,981.9 L427.4,983.6 L423.8,985.3 L420.1,987.0 L416.5,988.6 L412.8,990.2 L409.0,991.7 L405.3,993.2 L401.5,994.6 L397.8,996.0 L394.0,997.4 L390.2,998.8 L386.4,1000.2 L382.6,1001.6 L378.8,1002.9 L375.0,1004.3 L371.3,1005.7 L367.5,1007.1 L363.7,1008.5 L360.0,1010.0" fill="none" stroke="#462888" stroke-width="7.0" stroke-linejoin="round" stroke-dasharray="11 21" stroke-dashoffset="25.5" stroke-linecap="round"/>
<path d="M1451.3,434.8 L1449.6,438.4 L1447.9,442.0 L1446.1,445.6 L1444.4,449.2 L1442.6,452.8 L1440.9,456.4 L1439.1,460.0 L1437.3,463.5 L1435.4,467.1 L1433.6,470.7 L1431.7,474.2 L1429.9,477.7 L1428.0,481.3 L1426.1,484.8 L1424.1,488.3 L1422.2,491.8 L1420.2,495.3 L1418.3,498.8 L1416.3,502.3 L1414.3,505.8 L1412.3,509.3 L1410.2,512.7 L1408.2,516.2 L1406.1,519.6 L1404.0,523.1 L1401.9,526.5 L1399.8,529.9 L1397.7,533.3 L1395.5,536.7 L1393.3,540.1 L1391.2,543.5 L1389.0,546.8 L1386.8,550.2 L1384.5,553.6 L1382.3,556.9 L1380.0,560.2 L1377.7,563.5 L1375.5,566.8 L1373.1,570.1 L1370.8,573.4 L1368.5,576.7 L1366.1,580.0 L1363.8,583.2 L1361.4,586.4 L1359.0,589.7 L1356.6,592.9 L1354.1,596.1 L1351.7,599.3 L1349.2,602.5 L1346.8,605.6 L1344.3,608.8 L1341.8,611.9 L1339.2,615.1 L1336.7,618.2 L1334.2,621.3 L1331.6,624.4 L1329.0,627.5 L1326.4,630.5 L1323.8,633.6 L1321.2,636.6 L1318.5,639.6 L1315.9,642.7 L1313.2,645.7 L1310.5,648.6 L1307.8,651.6 L1305.1,654.6 L1302.4,657.5 L1299.6,660.4 L1296.9,663.3 L1294.1,666.2 L1291.3,669.1 L1288.5,672.0 L1285.7,674.8 L1282.8,677.7 L1280.0,680.5 L1277.1,683.3 L1274.3,686.1 L1271.4,688.9 L1268.5,691.6 L1265.6,694.4 L1262.6,697.1 L1259.7,699.8 L1256.7,702.5 L1253.7,705.2 L1250.8,707.9 L1247.8,710.5 L1244.7,713.2 L1241.7,715.8 L1238.7,718.4 L1235.6,721.0 L1232.6,723.5 L1229.5,726.1 L1226.4,728.6 L1223.3,731.2 L1220.2,733.7 L1217.0,736.2 L1213.9,738.7 L1210.7,741.1 L1207.6,743.6 L1204.4,746.0 L1201.2,748.5 L1198.0,750.9 L1194.8,753.3 L1191.6,755.6 L1188.4,758.0 L1185.1,760.3 L1181.8,762.7 L1178.6,765.0 L1175.3,767.3 L1172.0,769.6 L1168.7,771.9 L1165.4,774.1 L1162.1,776.3 L1158.7,778.6 L1155.4,780.8 L1152.0,783.0 L1148.7,785.2 L1145.3,787.3 L1141.9,789.5 L1138.5,791.6 L1135.1,793.7 L1131.7,795.8 L1128.3,797.9 L1124.9,800.0 L1121.4,802.1 L1118.0,804.1 L1114.5,806.1 L1111.0,808.2 L1107.6,810.2 L1104.1,812.2 L1100.6,814.1 L1097.1,816.1 L1093.6,818.0 L1090.1,820.0 L1086.5,821.9 L1083.0,823.8 L1079.4,825.6 L1075.9,827.5 L1072.3,829.4 L1068.8,831.2 L1065.2,833.0 L1061.6,834.8 L1058.0,836.6 L1054.4,838.4 L1050.8,840.2 L1047.2,841.9 L1043.6,843.7 L1039.9,845.4 L1036.3,847.1 L1032.7,848.8 L1029.0,850.5 L1025.4,852.1 L1021.7,853.8 L1018.0,855.4 L1014.4,857.0 L1010.7,858.6 L1007.0,860.2 L1003.3,861.8 L999.6,863.4 L995.9,864.9 L992.2,866.4 L988.5,868.0 L984.8,869.5 L981.1,871.0 L977.3,872.5 L973.6,873.9 L969.9,875.4 L966.1,876.8 L962.4,878.3 L958.6,879.7 L954.8,881.1 L951.1,882.5 L947.3,883.9 L943.6,885.3 L939.8,886.7 L936.0,888.0 L932.2,889.4 L928.4,890.7 L924.6,892.0 L920.8,893.3 L917.0,894.6 L913.2,895.9 L909.4,897.2 L905.6,898.5 L901.8,899.8 L898.0,901.0 L894.2,902.3 L890.4,903.5 L886.6,904.7 L882.7,905.9 L878.9,907.1 L875.1,908.3 L871.2,909.5 L867.4,910.7 L863.6,911.9 L859.7,913.1 L855.9,914.2 L852.0,915.4 L848.2,916.5 L844.3,917.6 L840.5,918.7 L836.6,919.9 L832.8,921.0 L828.9,922.1 L825.0,923.2 L821.2,924.2 L817.3,925.3 L813.4,926.4 L809.6,927.4 L805.7,928.5 L801.8,929.5 L797.9,930.6 L794.1,931.6 L790.2,932.6 L786.3,933.6 L782.4,934.6 L778.5,935.6 L774.6,936.6 L770.8,937.6 L766.9,938.6 L763.0,939.5 L759.1,940.5 L755.2,941.4 L751.3,942.4 L747.4,943.3 L743.5,944.3 L739.6,945.2 L735.7,946.1 L731.8,947.0 L727.8,947.9 L723.9,948.8 L720.0,949.7 L716.1,950.6 L712.2,951.5 L708.3,952.4 L704.4,953.3 L700.5,954.1 L696.5,955.0 L692.6,955.8 L688.7,956.7 L684.8,957.5 L680.8,958.4 L676.9,959.2 L673.0,960.0 L669.1,960.8 L665.1,961.6 L661.2,962.4 L657.3,963.2 L653.3,964.0 L649.4,964.8 L645.5,965.6 L641.5,966.4 L637.6,967.2 L633.7,967.9 L629.7,968.7 L625.8,969.4 L621.8,970.2 L617.9,970.9 L614.0,971.7 L610.0,972.4 L606.1,973.1 L602.1,973.9 L598.2,974.6 L594.2,975.3 L590.3,976.0 L586.3,976.7 L582.4,977.4 L578.4,978.1 L574.5,978.8 L570.5,979.5 L566.6,980.2 L562.6,980.8 L558.7,981.5 L554.7,982.2 L550.7,982.8 L546.8,983.5 L542.8,984.2 L538.9,984.8 L534.9,985.4 L530.9,986.1 L527.0,986.7 L523.0,987.3 L519.0,988.0 L515.1,988.6 L511.1,989.2 L507.1,989.8 L503.2,990.4 L499.2,991.0 L495.2,991.6 L491.3,992.2 L487.3,992.8 L483.3,993.4 L479.4,994.0 L475.4,994.6 L471.4,995.2 L467.4,995.8 L463.5,996.3 L459.5,996.9 L455.5,997.5 L451.5,998.0 L447.6,998.6 L443.6,999.1 L439.6,999.7 L435.6,1000.2 L431.7,1000.8 L427.7,1001.3 L423.7,1001.8 L419.7,1002.4 L415.7,1002.9 L411.8,1003.4 L407.8,1004.0 L403.8,1004.5 L399.8,1005.0 L395.8,1005.5 L391.9,1006.0 L387.9,1006.5 L383.9,1007.0 L379.9,1007.5 L375.9,1008.0 L372.0,1008.5 L368.0,1009.0 L364.0,1009.5 L360.0,1010.0" fill="none" stroke="#462888" stroke-width="7.0" stroke-linejoin="round" stroke-dasharray="11 21" stroke-dashoffset="25.5" stroke-linecap="round"/>
</g>
<rect x="294.5" y="54.0" width="1345.5" height="986.5" fill="none" stroke="#000" stroke-width="7.0"/>
<path d="M298.0,1011.5H318.5M1636.5,1011.5H1616.0M298.0,953.4H308.5M1636.5,953.4H1626.0M298.0,895.3H318.5M1636.5,895.3H1616.0M298.0,837.2H308.5M1636.5,837.2H1626.0M298.0,779.1H318.5M1636.5,779.1H1616.0M298.0,721.0H308.5M1636.5,721.0H1626.0M298.0,662.9H318.5M1636.5,662.9H1616.0M298.0,604.8H308.5M1636.5,604.8H1626.0M298.0,546.7H318.5M1636.5,546.7H1616.0M298.0,488.6H308.5M1636.5,488.6H1626.0M298.0,430.5H318.5M1636.5,430.5H1616.0M298.0,372.4H308.5M1636.5,372.4H1626.0M298.0,314.3H318.5M1636.5,314.3H1616.0M298.0,256.2H308.5M1636.5,256.2H1626.0M298.0,198.1H318.5M1636.5,198.1H1616.0M298.0,140.0H308.5M1636.5,140.0H1626.0M298.0,81.9H318.5M1636.5,81.9H1616.0M359.8,1037.0V1017.5M359.8,57.5V77.0M440.8,1037.0V1027.5M440.8,57.5V67.0M521.8,1037.0V1017.5M521.8,57.5V77.0M602.8,1037.0V1027.5M602.8,57.5V67.0M683.8,1037.0V1017.5M683.8,57.5V77.0M764.8,1037.0V1027.5M764.8,57.5V67.0M845.8,1037.0V1017.5M845.8,57.5V77.0M926.8,1037.0V1027.5M926.8,57.5V67.0M1007.8,1037.0V1017.5M1007.8,57.5V77.0M1088.8,1037.0V1027.5M1088.8,57.5V67.0M1169.8,1037.0V1017.5M1169.8,57.5V77.0M1250.8,1037.0V1027.5M1250.8,57.5V67.0M1331.8,1037.0V1017.5M1331.8,57.5V77.0M1412.8,1037.0V1027.5M1412.8,57.5V67.0M1493.8,1037.0V1017.5M1493.8,57.5V77.0M1574.8,1037.0V1027.5M1574.8,57.5V67.0" stroke="#000" stroke-width="6.5" fill="none"/>
<text transform="translate(271.0,1032.0) scale(1.000,1.055)" font-size="67" text-anchor="end">0</text>
<text transform="translate(271.0,915.8) scale(1.000,1.055)" font-size="67" text-anchor="end">20</text>
<text transform="translate(271.0,799.6) scale(1.000,1.055)" font-size="67" text-anchor="end">40</text>
<text transform="translate(271.0,683.4) scale(1.000,1.055)" font-size="67" text-anchor="end">60</text>
<text transform="translate(271.0,567.2) scale(1.000,1.055)" font-size="67" text-anchor="end">80</text>
<text transform="translate(271.0,451.0) scale(1.000,1.055)" font-size="67" text-anchor="end">100</text>
<text transform="translate(271.0,334.8) scale(1.000,1.055)" font-size="67" text-anchor="end">120</text>
<text transform="translate(271.0,218.6) scale(1.000,1.055)" font-size="67" text-anchor="end">140</text>
<text transform="translate(271.0,102.4) scale(1.000,1.055)" font-size="67" text-anchor="end">160</text>
<text transform="translate(358.8,1115.0) scale(1.000,1.055)" font-size="67" text-anchor="middle">0</text>
<text transform="translate(520.8,1115.0) scale(1.000,1.055)" font-size="67" text-anchor="middle">10</text>
<text transform="translate(682.8,1115.0) scale(1.000,1.055)" font-size="67" text-anchor="middle">20</text>
<text transform="translate(844.8,1115.0) scale(1.000,1.055)" font-size="67" text-anchor="middle">30</text>
<text transform="translate(1006.8,1115.0) scale(1.000,1.055)" font-size="67" text-anchor="middle">40</text>
<text transform="translate(1168.8,1115.0) scale(1.000,1.055)" font-size="67" text-anchor="middle">50</text>
<text transform="translate(1330.8,1115.0) scale(1.000,1.055)" font-size="67" text-anchor="middle">60</text>
<text transform="translate(1492.8,1115.0) scale(1.000,1.055)" font-size="67" text-anchor="middle">70</text>
<text transform="translate(963.0,1215.5) scale(1.000,1.040)" font-size="67.5" text-anchor="middle">Compressive strain [%]</text>
<text transform="translate(105.0,546.5) rotate(-90)" font-size="68.2" text-anchor="middle">Compressive stress [kPa]</text>
<path d="M346,111.5H450.3" stroke="#000" stroke-width="10.5" stroke-linecap="round"/>
<path d="M345.1,189.4H451.5" stroke="#e63e1a" stroke-width="8" stroke-dasharray="40.7 55" stroke-linecap="round"/>
<path d="M344.6,266.4H452" stroke="#462888" stroke-width="7" stroke-dasharray="11.8 20.2" stroke-linecap="round"/>
<text transform="translate(468.0,132.4) scale(1.000,1.037)" font-size="63.2">Measurement</text>
<text transform="translate(468.0,209.9) scale(1.000,1.037)" font-size="63.2">Neo-Hookean</text>
<text transform="translate(469.0,286.7) scale(1.000,1.037)" font-size="63.2">Ogden</text>
<text transform="translate(878.0,256.3) scale(0.955,1.020)" font-size="64">25 °C</text>
<text transform="translate(1224.5,233.4) scale(0.955,1.020)" font-size="64">45 °C</text>
<text transform="translate(1446.0,361.4) scale(0.955,1.020)" font-size="64">75 °C</text>
</g>
</svg></body></html>
